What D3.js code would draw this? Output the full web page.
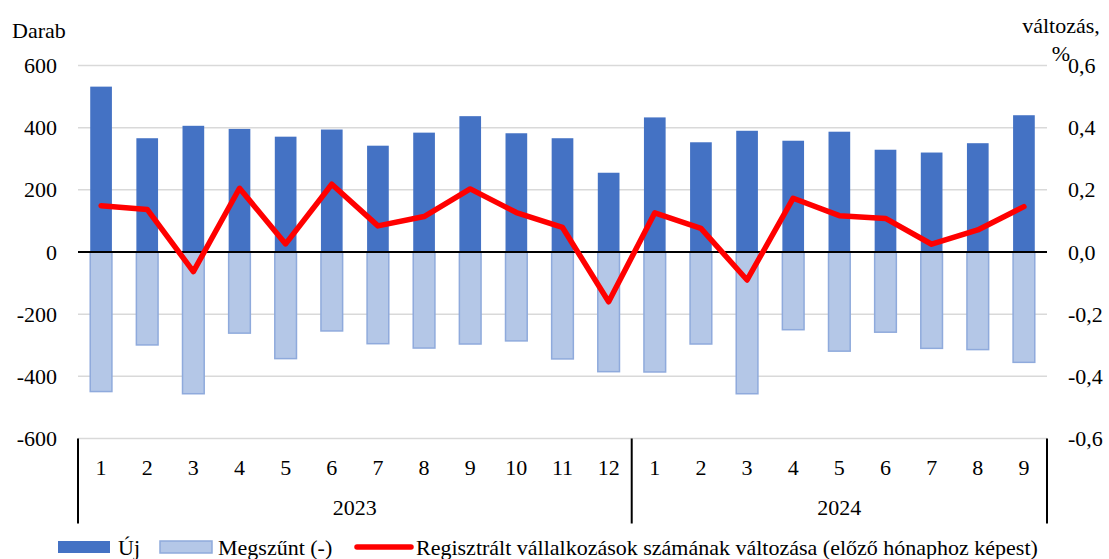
<!DOCTYPE html>
<html><head><meta charset="utf-8">
<script src="https://cdn.jsdelivr.net/npm/d3@7"></script>
<style>html,body{margin:0;padding:0;background:#fff;}</style>
</head>
<body><svg id="chart" width="1109" height="559"></svg>
<script>
const months = ["1","2","3","4","5","6","7","8","9","10","11","12","1","2","3","4","5","6","7","8","9"];
const years = ["2023","2024"];
const yearCounts = [12, 9];
const newFirms = [532,366,406,396,371,394,342,384,437,382,366,255,433,353,390,358,387,329,320,350,440];
const closedFirms = [-449,-299,-456,-261,-343,-254,-295,-309,-296,-286,-344,-385,-386,-296,-456,-250,-319,-258,-310,-314,-355];
const changePct = [0.149,0.137,-0.063,0.205,0.026,0.218,0.084,0.114,0.203,0.127,0.079,-0.160,0.126,0.076,-0.090,0.173,0.117,0.108,0.025,0.071,0.146];
const leftTicks = [600,400,200,0,-200,-400,-600];
const rightTicks = [0.6,0.4,0.2,0.0,-0.2,-0.4,-0.6];
const seriesNames = ["Új","Megszűnt (-)","Regisztrált vállalkozások számának változása (előző hónaphoz képest)"];

const svg = d3.select("#chart");
const L = 78, R = 1047, T = 65.5, B = 438.5;
const idx = months.map((d,i)=>i);
const x = d3.scaleBand().domain(idx).range([L,R]).paddingInner(0.53).paddingOuter(0.265);
const y = d3.scaleLinear().domain([-600,600]).range([B,T]);
const y2 = d3.scaleLinear().domain([-0.6,0.6]).range([B,T]);
const FS = "22px";
const FF = "Liberation Serif";

function txt(sel){ return sel.style("font-family",FF).style("font-size",FS).attr("fill","#000"); }
function styleAxis(g){
  g.attr("font-family",FF).attr("font-size",22);
  g.select(".domain").remove();
  txt(g.selectAll("text"));
}

// gridlines
svg.append("g").selectAll("line").data(leftTicks.filter(d=>d!==0)).join("line")
  .attr("x1",L).attr("x2",R).attr("y1",d=>y(d)).attr("y2",d=>y(d))
  .attr("stroke","#d9d9d9").attr("stroke-width",1.5);

// left axis labels
const yl = d3.axisLeft(y).tickValues(leftTicks).tickSize(0).tickPadding(0)
  .tickFormat(d => String(d));
const gl = svg.append("g").attr("transform",`translate(57,0)`).call(yl);
styleAxis(gl);

// right axis labels
const fmt = d => d3.format(".1f")(d).replace(".",",").replace("\u2212","-");
const yr = d3.axisRight(y2).tickValues(rightTicks).tickSize(0).tickPadding(0).tickFormat(fmt);
const gr = svg.append("g").attr("transform",`translate(1068,0)`).call(yr);
styleAxis(gr);

// bars
svg.append("g").selectAll("rect").data(closedFirms).join("rect")
  .attr("x",(d,i)=>x(i)).attr("width",x.bandwidth())
  .attr("y",y(0)).attr("height",d=>y(d)-y(0))
  .attr("fill","#b4c7e7").attr("stroke","#8faadc").attr("stroke-width",1.5);
svg.append("g").selectAll("rect").data(newFirms).join("rect")
  .attr("x",(d,i)=>x(i)).attr("width",x.bandwidth())
  .attr("y",d=>y(d)).attr("height",d=>y(0)-y(d))
  .attr("fill","#4472c4");

// zero line
svg.append("line").attr("x1",L).attr("x2",R).attr("y1",y(0)).attr("y2",y(0))
  .attr("stroke","#000").attr("stroke-width",2);

// line
const line = d3.line().x((d,i)=>x(i)+x.bandwidth()/2).y(d=>y2(d));
svg.append("path").datum(changePct).attr("d",line)
  .attr("fill","none").attr("stroke","#ff0000").attr("stroke-width",5.5)
  .attr("stroke-linejoin","round").attr("stroke-linecap","round");

// x axis (multi-level)
const xa = d3.axisBottom(x).tickSize(0).tickPadding(0).tickFormat(i=>months[i]);
const gx = svg.append("g").attr("transform",`translate(0,${B})`).call(xa);
styleAxis(gx);
gx.selectAll("text").attr("dy",null).attr("y",36);

// year separators and labels
let start = 0;
const sepX = [L];
years.forEach((yrName,k)=>{
  const s = start, e = start + yearCounts[k];
  const x0 = s===0 ? L : x(s) - x.step()*x.paddingInner()/2;
  const x1 = e===months.length ? R : x(e) - x.step()*x.paddingInner()/2;
  sepX.push(x1);
  txt(svg.append("text").attr("x",(x0+x1)/2).attr("y",B+76).attr("text-anchor","middle")).text(yrName);
  start = e;
});
svg.append("g").selectAll("line").data(sepX).join("line")
  .attr("x1",d=>d).attr("x2",d=>d).attr("y1",B).attr("y2",B+85)
  .attr("stroke","#000").attr("stroke-width",2);

// axis titles
txt(svg.append("text").attr("x",12).attr("y",38)).text("Darab");
txt(svg.append("text").attr("x",1061).attr("y",33).attr("text-anchor","middle")).text("változás,");
txt(svg.append("text").attr("x",1061).attr("y",61).attr("text-anchor","middle")).text("%");

// legend
const lg = svg.append("g");
lg.append("rect").attr("x",58).attr("y",541).attr("width",52).attr("height",12).attr("fill","#4472c4");
txt(lg.append("text").attr("x",118).attr("y",555)).text(seriesNames[0]);
lg.append("rect").attr("x",160).attr("y",541).attr("width",52).attr("height",12)
  .attr("fill","#b4c7e7").attr("stroke","#8faadc").attr("stroke-width",1.5);
txt(lg.append("text").attr("x",218).attr("y",555)).text(seriesNames[1]);
lg.append("line").attr("x1",357).attr("x2",411).attr("y1",547).attr("y2",547)
  .attr("stroke","#ff0000").attr("stroke-width",5.5).attr("stroke-linecap","round");
txt(lg.append("text").attr("x",416).attr("y",555)).text(seriesNames[2]);
</script></body></html>
